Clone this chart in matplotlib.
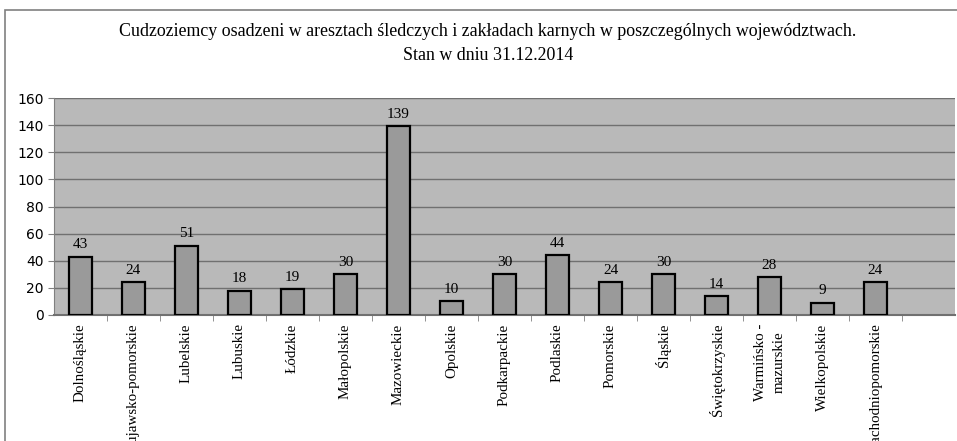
import numpy as np
import matplotlib.pyplot as plt
from matplotlib.patches import Rectangle

plt.rcParams['font.family'] = ['Liberation Serif', 'DejaVu Serif']

wojewodztwa = ['Dolnośląskie', 'Kujawsko-pomorskie', 'Lubelskie', 'Lubuskie', 'Łódzkie',
               'Małopolskie', 'Mazowieckie', 'Opolskie', 'Podkarpackie', 'Podlaskie',
               'Pomorskie', 'Śląskie', 'Świętokrzyskie', 'Warmińsko -\nmazurskie',
               'Wielkopolskie', 'Zachodniopomorskie']
osadzeni = [43, 24, 51, 18, 19, 30, 139, 10, 30, 44, 24, 30, 14, 28, 9, 24]
yticks = [0, 20, 40, 60, 80, 100, 120, 140, 160]

fig = plt.figure(figsize=(9.57, 4.41), dpi=100)
fig.patches.append(Rectangle((5 / 957, -0.1), 1.1, 1 - 10 / 441 + 0.1, transform=fig.transFigure,
                             fill=False, edgecolor='#808080', linewidth=1.2))

ax = fig.add_axes([54 / 957, 1 - 315 / 441, (955 - 54) / 957, (315 - 98) / 441])
ax.set_facecolor('#b9b9b9')
x = np.arange(len(osadzeni))
bars = ax.bar(x, osadzeni, width=0.43, color='#9a9a9a', edgecolor='black', linewidth=1.6, zorder=3)
for xi, v in zip(x, osadzeni):
    ax.text(xi, v + 4, str(v), ha='center', va='bottom', fontsize=11, zorder=4)

ax.set_xlim(-0.5, 16.5)
ax.set_ylim(0, 160)
ax.set_yticks(yticks)
ax.set_yticklabels([str(t) for t in yticks], fontsize=10, family=['DejaVu Sans'])
ax.yaxis.grid(True, color='#707070', linewidth=1.0, zorder=1)
ax.set_xticks(x)
ax.set_xticklabels(wojewodztwa, rotation=90, fontsize=10.8, linespacing=1.6)
ax.tick_params(axis='x', length=0, pad=6)
ax.set_xticks(np.arange(0.5, 16.5, 1), minor=True)
ax.tick_params(axis='x', which='minor', length=4, direction='out', color='#808080')
ax.tick_params(axis='y', length=4, color='#808080')
for s in ['top', 'right']:
    ax.spines[s].set_visible(False)
ax.spines['left'].set_color('#808080')
ax.spines['bottom'].set_color('#707070')
ax.spines['bottom'].set_linewidth(1.5)

fig.text(488 / 957, 1 - 32 / 441, 'Cudzoziemcy osadzeni w aresztach śledczych i zakładach karnych w poszczególnych województwach.',
         ha='center', va='center', fontsize=12.9)
fig.text(488 / 957, 1 - 55 / 441, 'Stan w dniu 31.12.2014', ha='center', va='center', fontsize=12.9)

fig.savefig('out.png', dpi=100, facecolor='white')
